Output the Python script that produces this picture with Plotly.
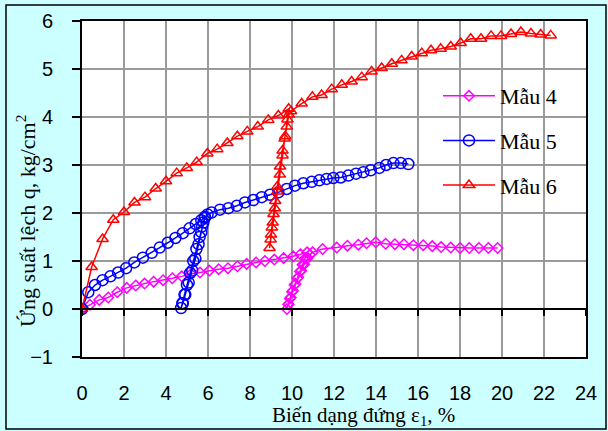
import plotly.graph_objects as go

# ---------------- data ----------------
x_tick_vals = list(range(0, 25, 2))
y_tick_vals = list(range(-1, 7))

names = ["Mẫu 4", "Mẫu 5", "Mẫu 6"]

x4 = [0, 0.38, 0.82, 1.25, 1.68, 2.13, 2.56, 2.98, 3.41, 3.86, 4.30, 4.75, 5.19, 5.62,
      6.06, 6.51, 6.95, 7.40, 7.84, 8.29, 8.71, 9.16, 9.60, 10.06, 10.40, 10.72,
      10.62, 10.50, 10.38, 10.25, 10.12, 10.00, 9.90, 9.82, 9.76,
      9.84, 9.94, 10.05, 10.17, 10.30, 10.44, 10.58, 10.72, 10.85, 10.98,
      11.46, 12.13, 12.64, 13.16, 13.55, 13.99, 14.46, 14.90, 15.33, 15.78, 16.25,
      16.68, 17.10, 17.56, 18.00, 18.44, 18.90, 19.35, 19.79]
q4 = [0, 0.09, 0.19, 0.24, 0.35, 0.44, 0.49, 0.53, 0.57, 0.60, 0.64, 0.68, 0.73, 0.76,
      0.80, 0.83, 0.85, 0.89, 0.94, 0.97, 1.00, 1.03, 1.06, 1.10, 1.14, 1.18,
      1.05, 0.92, 0.78, 0.64, 0.50, 0.36, 0.22, 0.10, 0.0,
      0.10, 0.24, 0.38, 0.52, 0.66, 0.80, 0.93, 1.05, 1.13, 1.18,
      1.25, 1.28, 1.32, 1.34, 1.37, 1.39, 1.36, 1.35, 1.35, 1.33, 1.33,
      1.31, 1.29, 1.28, 1.27, 1.27, 1.27, 1.27, 1.27]

x5 = [0, 0.30, 0.62, 0.98, 1.35, 1.72, 2.10, 2.49, 2.90, 3.32, 3.70, 4.08, 4.45, 4.80,
      5.12, 5.42, 5.68, 5.85,
      5.78, 5.68, 5.55, 5.40, 5.25, 5.08, 4.92, 4.80, 4.72,
      4.78, 4.88, 5.00, 5.15, 5.30, 5.45, 5.60, 5.72, 5.85, 5.98,
      6.17, 6.57, 6.97, 7.37, 7.76, 8.16, 8.56, 8.95, 9.35, 9.75, 10.14, 10.54, 10.94,
      11.30, 11.65, 11.97, 12.32, 12.68, 13.05, 13.40, 13.75, 14.16, 14.48, 14.83,
      15.18, 15.54]
q5 = [0, 0.35, 0.50, 0.60, 0.68, 0.76, 0.85, 0.97, 1.07, 1.17, 1.28, 1.38, 1.48, 1.58,
      1.68, 1.77, 1.85, 1.92,
      1.80, 1.60, 1.35, 1.05, 0.80, 0.55, 0.30, 0.12, 0.02,
      0.12, 0.30, 0.50, 0.75, 1.00, 1.25, 1.50, 1.72, 1.90, 1.97,
      2.01, 2.07, 2.10, 2.15, 2.22, 2.27, 2.33, 2.38, 2.43, 2.50, 2.57, 2.62, 2.65,
      2.68, 2.71, 2.73, 2.74, 2.78, 2.82, 2.85, 2.89, 2.94, 3.00, 3.04,
      3.04, 3.02]

x6 = [0, 0.46, 0.98, 1.49, 2.00, 2.50, 3.00, 3.51, 4.00, 4.51, 4.99, 5.46, 5.97, 6.44,
      6.92, 7.40, 7.87, 8.37, 8.87, 9.35, 9.84,
      9.78, 9.68, 9.55, 9.42, 9.30, 9.18, 9.08, 9.00, 8.93,
      8.98, 9.04, 9.12, 9.20, 9.30, 9.43, 9.55, 9.65, 9.75, 9.85, 9.95,
      10.46, 10.97, 11.41, 11.89, 12.37, 12.84, 13.32, 13.79, 14.27, 14.75, 15.22,
      15.70, 16.18, 16.62, 17.08, 17.56, 18.03, 18.51, 19.00, 19.48, 19.95, 20.43,
      20.90, 21.38, 21.84, 22.32]
q6 = [0, 0.875, 1.46, 1.86, 2.02, 2.22, 2.33, 2.51, 2.66, 2.83, 2.94, 3.06, 3.24, 3.33,
      3.46, 3.60, 3.70, 3.80, 3.94, 4.03, 4.17,
      3.95, 3.60, 3.20, 2.80, 2.45, 2.10, 1.80, 1.55, 1.27,
      1.45, 1.70, 1.98, 2.25, 2.55, 2.97, 3.30, 3.55, 3.80, 4.05, 4.12,
      4.28, 4.42, 4.46, 4.58, 4.67, 4.74, 4.83, 4.95, 5.02, 5.11, 5.18,
      5.26, 5.33, 5.39, 5.42, 5.47, 5.54, 5.63, 5.63, 5.69, 5.69, 5.73,
      5.77, 5.74, 5.72, 5.70]

# ---------------- figure ----------------
W, H = 608, 431
L, R, T, B = 82, 22, 21, 74
pw, ph = W - L - R, H - T - B

fig = go.Figure()

styles = [
    dict(color="#FF00FF", symbol="diamond-open", size=8),
    dict(color="#0000FF", symbol="circle-open", size=11),
    dict(color="#FF0000", symbol="triangle-up-open", size=10),
]
for i, (xs, ys) in enumerate([(x4, q4), (x5, q5), (x6, q6)]):
    st = styles[i]
    fig.add_trace(go.Scatter(
        x=xs, y=ys, mode="lines+markers", name=names[i], legendgroup=names[i],
        line=dict(color=st["color"], width=1.5),
        marker=dict(symbol=st["symbol"], size=st["size"], color=st["color"],
                    line=dict(color=st["color"], width=1.5)),
    ))

# invisible trace to carry the tick-mark axis along y = 0
fig.add_trace(go.Scatter(x=[0, 24], y=[0, 0], xaxis="x2", mode="none",
                         showlegend=False, hoverinfo="skip"))

serif = "Liberation Serif, Times New Roman"
grid = "#9a9a9a"
fig.update_layout(
    width=W, height=H,
    margin=dict(l=L, r=R, t=T, b=B, autoexpand=False),
    paper_bgcolor="#CCFFFF",
    plot_bgcolor="#FFFFFF",
    font=dict(family="Liberation Sans, Arial", size=20, color="#000000"),
    xaxis=dict(range=[0, 24], tickvals=x_tick_vals, showgrid=True, gridcolor=grid,
               gridwidth=1.5, zeroline=False, showline=True, linecolor="#000000",
               linewidth=2, mirror=True, ticks="", ticklabelstandoff=17,
               tickfont=dict(size=20, family="Liberation Sans, Arial")),
    xaxis2=dict(range=[0, 24], tickvals=x_tick_vals, overlaying="x", anchor="free",
                position=1 / 7, showgrid=False, zeroline=False, showline=True,
                linecolor="#000000", linewidth=1.5, ticks="outside", ticklen=6,
                tickcolor="#000000", tickwidth=1.5, showticklabels=False),
    yaxis=dict(range=[-1, 6], tickvals=y_tick_vals, showgrid=True, gridcolor=grid,
               gridwidth=1.5, zeroline=True, zerolinecolor="#000000", zerolinewidth=1.5,
               showline=True, linecolor="#000000", linewidth=2, mirror=True,
               ticks="outside", ticklen=8, tickcolor="#000000", tickwidth=1.5,
               ticklabelstandoff=15,
               tickfont=dict(size=20, family="Liberation Sans, Arial")),
    legend=dict(x=(438 - L) / pw, y=(H - B - 75) / ph, xanchor="left", yanchor="top",
                bgcolor="rgba(0,0,0,0)", borderwidth=0, itemwidth=52,
                tracegroupgap=13,
                font=dict(family=serif, size=22)),
    showlegend=True,
)

# axis titles
fig.add_annotation(text="Biến dạng đứng ε<sub>1</sub>, %", xref="paper", yref="paper",
                   x=(363 - L) / pw, y=(H - B - 416) / ph, showarrow=False,
                   xanchor="center", yanchor="middle",
                   font=dict(family=serif, size=21))
fig.add_annotation(text="Ứng suất lệch q, kg/cm<sup>2</sup>", xref="paper", yref="paper",
                   x=(26 - L) / pw, y=(H - B - 221) / ph, showarrow=False, textangle=-90,
                   xanchor="center", yanchor="middle",
                   font=dict(family=serif, size=22))

# outer chart border
fig.add_shape(type="rect", xref="paper", yref="paper",
              x0=(6 - L) / pw, x1=(606 - L) / pw,
              y0=(H - B - 429) / ph, y1=(H - B - 5) / ph,
              line=dict(color="#000000", width=1.5), layer="below")

fig.write_html("out.html",
               config={"displayModeBar": False},
               post_script="document.body.style.margin='0';"
                           "document.body.style.overflow='hidden';")
